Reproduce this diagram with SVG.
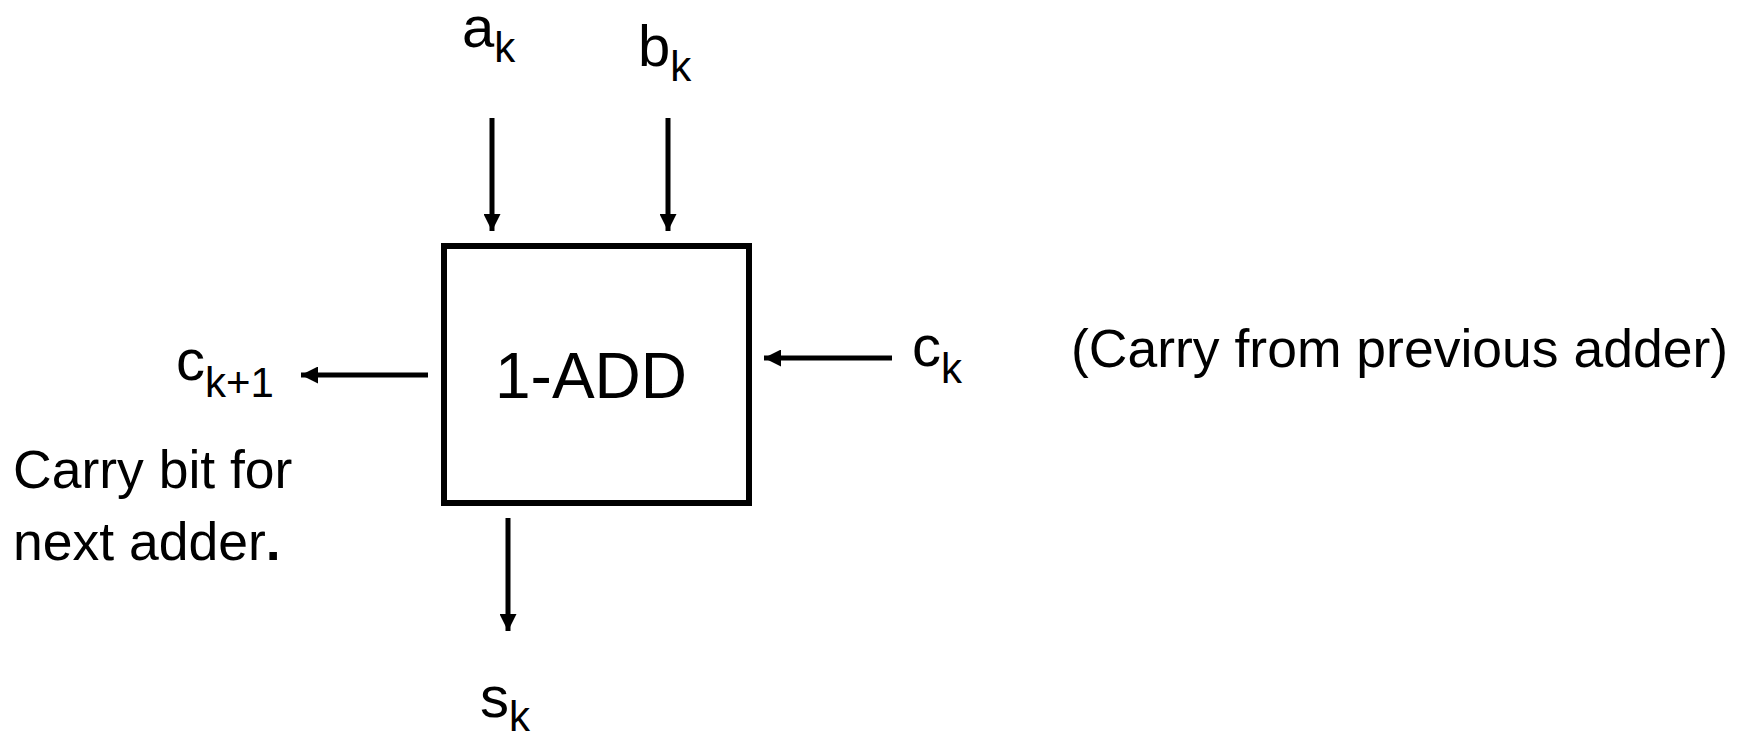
<svg xmlns="http://www.w3.org/2000/svg" width="1744" height="734" viewBox="0 0 1744 734">
<style>
text{font-family:"Liberation Sans",Arial,sans-serif;fill:#000}
.lbl{font-size:58px}
.sub{font-size:42px}
.note{font-size:53.5px}
.wire{stroke:#000;stroke-width:5;fill:none}
</style>
<defs>
<marker id="ah" viewBox="0 0 10 10" refX="10" refY="5" markerUnits="userSpaceOnUse" markerWidth="19" markerHeight="17" orient="auto">
<path d="M0,0 L10,5 L0,10 z" fill="#000"/>
</marker>
</defs>
<rect width="1744" height="734" fill="#fff"/>
<g id="adder">
<rect x="444" y="246" width="305" height="257" fill="none" stroke="#000" stroke-width="6"/>
<text x="591" y="398" font-size="64" text-anchor="middle">1-ADD</text>
</g>
<g id="connectors">
<line class="wire" x1="492" y1="118" x2="492" y2="231" marker-end="url(#ah)"/>
<line class="wire" x1="668" y1="118" x2="668" y2="231" marker-end="url(#ah)"/>
<line class="wire" x1="428" y1="375" x2="301" y2="375" marker-end="url(#ah)"/>
<line class="wire" x1="892" y1="358" x2="764" y2="358" marker-end="url(#ah)"/>
<line class="wire" x1="508" y1="518" x2="508" y2="631" marker-end="url(#ah)"/>
</g>
<g id="in-a"><text class="lbl" x="462" y="47">a<tspan class="sub" dy="15">k</tspan></text></g>
<g id="in-b"><text class="lbl" x="638" y="66">b<tspan class="sub" dy="15">k</tspan></text></g>
<g id="out-carry"><text class="lbl" x="176" y="380">c<tspan class="sub" dy="17">k+1</tspan></text></g>
<g id="in-carry"><text class="lbl" x="912" y="366">c<tspan class="sub" dy="17">k</tspan></text></g>
<g id="out-sum"><text class="lbl" x="480" y="717">s<tspan class="sub" dy="14">k</tspan></text></g>
<g id="note-left">
<text class="note" x="13" y="488">Carry bit for</text>
<text class="note" x="13" y="560">next adder<tspan font-weight="bold">.</tspan></text>
</g>
<g id="note-right"><text class="note" x="1071" y="367">(Carry from previous adder)</text></g>
</svg>
